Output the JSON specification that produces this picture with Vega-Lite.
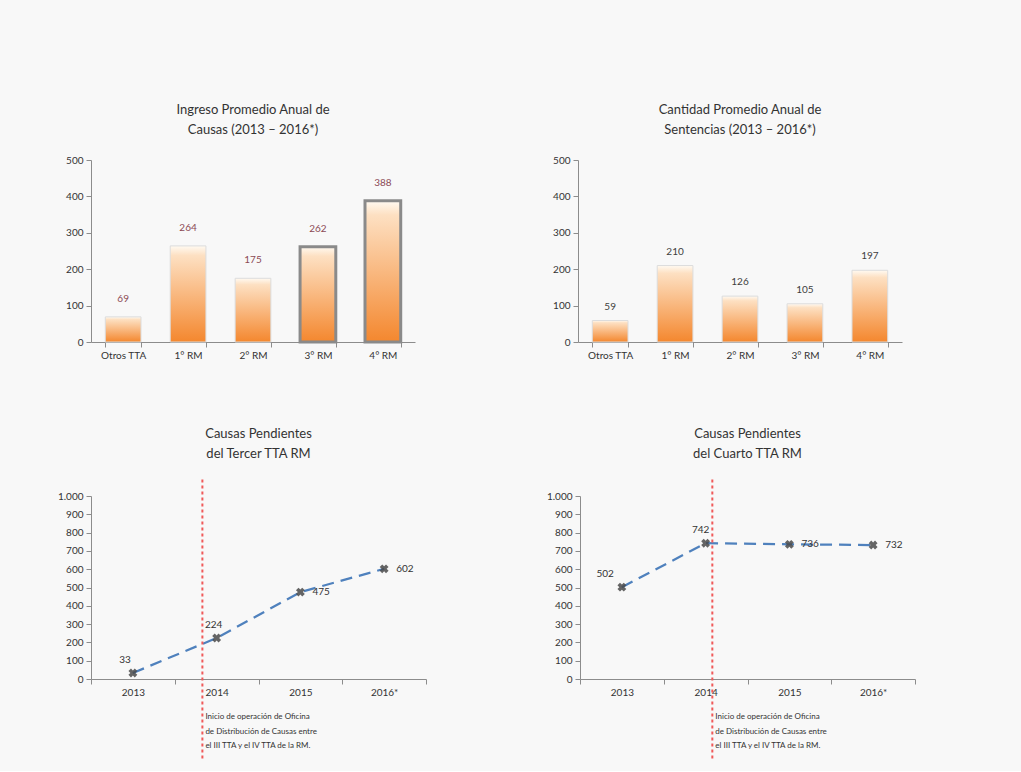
{
  "$schema": "https://vega.github.io/schema/vega-lite/v6.json",
  "background": "#f8f8f8",
  "padding": {"left": 57, "top": 104, "right": 113, "bottom": 10},
  "config": {
    "font": "Lato",
    "view": {"stroke": null},
    "axis": {"domainColor": "#8c8c8c", "tickColor": "#8c8c8c", "labelColor": "#333333", "labelFontSize": 10, "grid": false, "title": null, "tickSize": 5, "labelPadding": 3},
    "axisY": {"minExtent": 30, "maxExtent": 30},
    "axisX": {"minExtent": 25, "maxExtent": 25, "labelAngle": 0},
    "title": {"fontSize": 13, "fontWeight": "normal", "color": "#333333", "lineHeight": 20, "offset": 18}
  },
  "spacing": 60,
  "vconcat": [
    {
      "spacing": 133,
      "hconcat": [
        {
          "title": {"text": ["Ingreso Promedio Anual de", "Causas (2013 – 2016*)"]},
          "width": 324, "height": 182,
          "data": {"values": [
            {"cat": "Otros TTA", "valor": 69},
            {"cat": "1° RM", "valor": 264},
            {"cat": "2° RM", "valor": 175},
            {"cat": "3° RM", "valor": 262},
            {"cat": "4° RM", "valor": 388}
          ]},
          "encoding": {
            "x": {"field": "cat", "type": "nominal", "sort": null, "scale": {"paddingInner": 0.45, "paddingOuter": 0.22}, "axis": {"tickBand": "extent"}},
            "y": {"field": "valor", "type": "quantitative", "scale": {"domain": [0, 500], "nice": false}, "axis": {"values": [0, 100, 200, 300, 400, 500]}}
          },
          "layer": [
            {
              "mark": {"type": "bar", "color": {"gradient": "linear", "x1": 0, "y1": 0, "x2": 0, "y2": 1, "stops": [{"offset": 0, "color": "#fffaf2"}, {"offset": 0.1, "color": "#fde0c2"}, {"offset": 1, "color": "#f4872e"}]}},
              "encoding": {
                "stroke": {"condition": {"test": "datum.cat == '3° RM' || datum.cat == '4° RM'", "value": "#8a8a8a"}, "value": "#dcdcdc"},
                "strokeWidth": {"condition": {"test": "datum.cat == '3° RM' || datum.cat == '4° RM'", "value": 3}, "value": 1}
              }
            },
            {
              "mark": {"type": "text", "dy": -18, "fontSize": 10, "color": "#8b4a55"},
              "encoding": {"text": {"field": "valor", "type": "quantitative"}}
            }
          ]
        },
        {
          "title": {"text": ["Cantidad Promedio Anual de", "Sentencias (2013 – 2016*)"]},
          "width": 324, "height": 182,
          "data": {"values": [
            {"cat": "Otros TTA", "valor": 59},
            {"cat": "1° RM", "valor": 210},
            {"cat": "2° RM", "valor": 126},
            {"cat": "3° RM", "valor": 105},
            {"cat": "4° RM", "valor": 197}
          ]},
          "encoding": {
            "x": {"field": "cat", "type": "nominal", "sort": null, "scale": {"paddingInner": 0.45, "paddingOuter": 0.22}, "axis": {"tickBand": "extent"}},
            "y": {"field": "valor", "type": "quantitative", "scale": {"domain": [0, 500], "nice": false}, "axis": {"values": [0, 100, 200, 300, 400, 500]}}
          },
          "layer": [
            {
              "mark": {"type": "bar", "stroke": "#dcdcdc", "strokeWidth": 1, "color": {"gradient": "linear", "x1": 0, "y1": 0, "x2": 0, "y2": 1, "stops": [{"offset": 0, "color": "#fffaf2"}, {"offset": 0.1, "color": "#fde0c2"}, {"offset": 1, "color": "#f4872e"}]}}
            },
            {
              "mark": {"type": "text", "dy": -14, "fontSize": 10, "color": "#404040"},
              "encoding": {"text": {"field": "valor", "type": "quantitative"}}
            }
          ]
        }
      ]
    },
    {
      "spacing": 119,
      "hconcat": [
        {
          "title": {"text": ["Causas Pendientes", "del Tercer TTA RM"]},
          "width": 335, "height": 183,
          "layer": [
            {
              "data": {"values": [
                {"year": "2013", "valor": 33},
                {"year": "2014", "valor": 224},
                {"year": "2015", "valor": 475},
                {"year": "2016*", "valor": 602}
              ]},
              "encoding": {
                "x": {"field": "year", "type": "ordinal", "scale": {"type": "band", "paddingInner": 0, "paddingOuter": 0}, "axis": {"tickBand": "extent"}},
                "y": {"field": "valor", "type": "quantitative", "scale": {"domain": [0, 1000], "nice": false}, "axis": {"values": [0, 100, 200, 300, 400, 500, 600, 700, 800, 900, 1000], "labelExpr": "replace(datum.label, ',', '.')"}}
              },
              "layer": [
                {"mark": {"type": "line", "color": "#4f81bd", "strokeWidth": 2.25, "strokeDash": [12, 7]}},
                {"mark": {"type": "point", "shape": "cross", "angle": 45, "filled": true, "size": 80, "color": "#4a4a4a", "opacity": 0.85}},
                {
                  "transform": [{"filter": "datum.year == '2013'"}],
                  "mark": {"type": "text", "align": "right", "dx": -2, "dy": -13, "fontSize": 10, "color": "#333333"},
                  "encoding": {"text": {"field": "valor", "type": "quantitative"}}
                },
                {
                  "transform": [{"filter": "datum.year == '2014'"}],
                  "mark": {"type": "text", "align": "center", "dx": -3, "dy": -13, "fontSize": 10, "color": "#333333"},
                  "encoding": {"text": {"field": "valor", "type": "quantitative"}}
                },
                {
                  "transform": [{"filter": "datum.year == '2015' || datum.year == '2016*'"}],
                  "mark": {"type": "text", "align": "left", "dx": 12, "fontSize": 10, "color": "#333333"},
                  "encoding": {"text": {"field": "valor", "type": "quantitative"}}
                }
              ]
            },
            {
              "data": {"values": [{"year": "2014"}]},
              "mark": {"type": "rule", "color": "#f05a5a", "strokeWidth": 2, "strokeDash": [3, 3]},
              "encoding": {
                "x": {"field": "year", "type": "ordinal", "bandPosition": 0.33, "scale": {"type": "band", "paddingInner": 0, "paddingOuter": 0}, "axis": {"tickBand": "extent"}},
                "y": {"datum": 1090, "type": "quantitative", "scale": {"domain": [0, 1000], "nice": false}, "axis": {"values": [0, 100, 200, 300, 400, 500, 600, 700, 800, 900, 1000], "labelExpr": "replace(datum.label, ',', '.')"}},
                "y2": {"datum": -440}
              }
            },
            {
              "data": {"values": [{"year": "2014", "nota": ["Inicio de operación de Oficina", "de Distribución de Causas entre", "el III TTA y el IV TTA de la RM."]}]},
              "mark": {"type": "text", "align": "left", "baseline": "top", "dx": 3, "fontSize": 8, "lineHeight": 14.5, "color": "#333333"},
              "encoding": {
                "x": {"field": "year", "type": "ordinal", "bandPosition": 0.33, "scale": {"type": "band", "paddingInner": 0, "paddingOuter": 0}, "axis": {"tickBand": "extent"}},
                "y": {"datum": -186, "type": "quantitative", "scale": {"domain": [0, 1000], "nice": false}, "axis": {"values": [0, 100, 200, 300, 400, 500, 600, 700, 800, 900, 1000], "labelExpr": "replace(datum.label, ',', '.')"}},
                "text": {"field": "nota"}
              }
            }
          ]
        },
        {
          "title": {"text": ["Causas Pendientes", "del Cuarto TTA RM"]},
          "width": 335, "height": 183,
          "layer": [
            {
              "data": {"values": [
                {"year": "2013", "valor": 502},
                {"year": "2014", "valor": 742},
                {"year": "2015", "valor": 736},
                {"year": "2016*", "valor": 732}
              ]},
              "encoding": {
                "x": {"field": "year", "type": "ordinal", "scale": {"type": "band", "paddingInner": 0, "paddingOuter": 0}, "axis": {"tickBand": "extent"}},
                "y": {"field": "valor", "type": "quantitative", "scale": {"domain": [0, 1000], "nice": false}, "axis": {"values": [0, 100, 200, 300, 400, 500, 600, 700, 800, 900, 1000], "labelExpr": "replace(datum.label, ',', '.')"}}
              },
              "layer": [
                {"mark": {"type": "line", "color": "#4f81bd", "strokeWidth": 2.25, "strokeDash": [12, 7]}},
                {"mark": {"type": "point", "shape": "cross", "angle": 45, "filled": true, "size": 80, "color": "#4a4a4a", "opacity": 0.85}},
                {
                  "transform": [{"filter": "datum.year == '2013'"}],
                  "mark": {"type": "text", "align": "right", "dx": -8, "dy": -13, "fontSize": 10, "color": "#333333"},
                  "encoding": {"text": {"field": "valor", "type": "quantitative"}}
                },
                {
                  "transform": [{"filter": "datum.year == '2014'"}],
                  "mark": {"type": "text", "align": "center", "dx": -5, "dy": -13, "fontSize": 10, "color": "#333333"},
                  "encoding": {"text": {"field": "valor", "type": "quantitative"}}
                },
                {
                  "transform": [{"filter": "datum.year == '2015' || datum.year == '2016*'"}],
                  "mark": {"type": "text", "align": "left", "dx": 12, "fontSize": 10, "color": "#333333"},
                  "encoding": {"text": {"field": "valor", "type": "quantitative"}}
                }
              ]
            },
            {
              "data": {"values": [{"year": "2014"}]},
              "mark": {"type": "rule", "color": "#f05a5a", "strokeWidth": 2, "strokeDash": [3, 3]},
              "encoding": {
                "x": {"field": "year", "type": "ordinal", "bandPosition": 0.58, "scale": {"type": "band", "paddingInner": 0, "paddingOuter": 0}, "axis": {"tickBand": "extent"}},
                "y": {"datum": 1090, "type": "quantitative", "scale": {"domain": [0, 1000], "nice": false}, "axis": {"values": [0, 100, 200, 300, 400, 500, 600, 700, 800, 900, 1000], "labelExpr": "replace(datum.label, ',', '.')"}},
                "y2": {"datum": -440}
              }
            },
            {
              "data": {"values": [{"year": "2014", "nota": ["Inicio de operación de Oficina", "de Distribución de Causas entre", "el III TTA y el IV TTA de la RM."]}]},
              "mark": {"type": "text", "align": "left", "baseline": "top", "dx": 3, "fontSize": 8, "lineHeight": 14.5, "color": "#333333"},
              "encoding": {
                "x": {"field": "year", "type": "ordinal", "bandPosition": 0.58, "scale": {"type": "band", "paddingInner": 0, "paddingOuter": 0}, "axis": {"tickBand": "extent"}},
                "y": {"datum": -186, "type": "quantitative", "scale": {"domain": [0, 1000], "nice": false}, "axis": {"values": [0, 100, 200, 300, 400, 500, 600, 700, 800, 900, 1000], "labelExpr": "replace(datum.label, ',', '.')"}},
                "text": {"field": "nota"}
              }
            }
          ]
        }
      ]
    }
  ]
}
